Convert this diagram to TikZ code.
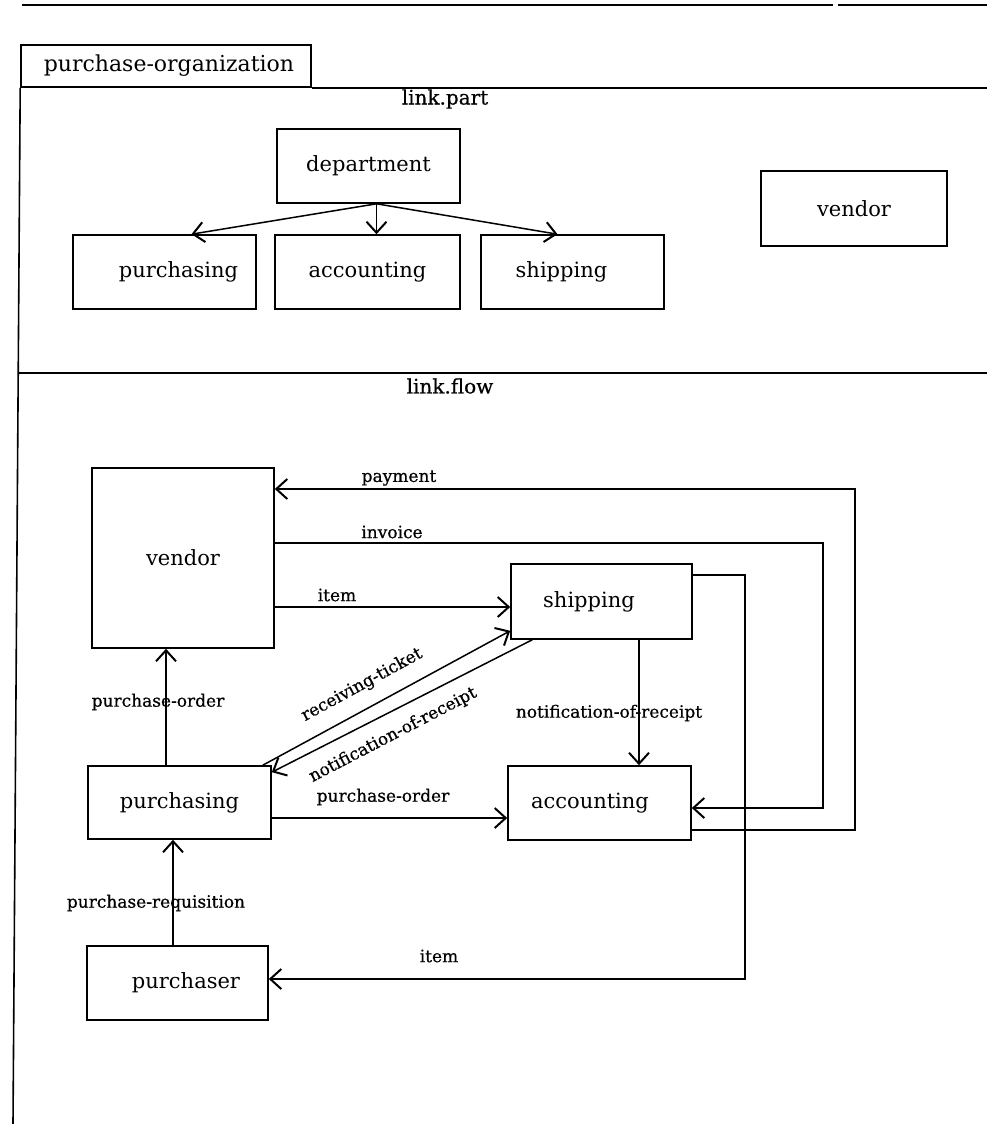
\documentclass[tikz,border=0pt]{standalone}
\usepackage{fontspec}
\setmainfont{DejaVu Serif}
\newfontfamily\heavyserif[FakeBold=0.6]{DejaVu Serif}
\usetikzlibrary{arrows.meta}
\begin{document}
\begin{tikzpicture}[x=1pt,y=-1pt,
  box/.style={draw, line width=1.6pt, inner sep=0pt, font=\fontsize{21}{24}\selectfont},
  flow/.style={line width=1.5pt, -{Straight Barb[length=11pt,width=20pt,line width=2pt]}},
  lbl/.style={inner sep=0pt, font=\heavyserif\fontsize{17}{20}\selectfont},
  frame/.style={line width=1.6pt},
  title/.style={inner sep=0pt, font=\heavyserif\fontsize{20}{23}\selectfont}]
\useasboundingbox (0,0) rectangle (987,1124);

% ---- outer frame ----
\draw[frame] (22,5) -- (833,5);
\draw[frame] (838,5) -- (987,5);
\node[draw, line width=1.6pt, inner sep=0pt, minimum width=290pt, minimum height=42pt,
      font=\fontsize{22}{26}\selectfont] (org) at (166,66) {\hspace*{6pt}purchase-organization};
\draw[frame] (org.south east) -- (org.south east -| 987,0);
\draw[frame] (org.south west) -- (13,1124);
\draw[frame] (19,373) -- (987,373);

\node[title] (lp) at (445,99) {link.part};
\node[title] (lf) at (450,386) {link.flow};

% ---- link.part ----
\node[box, minimum width=183pt, minimum height=74pt] (dep) at (368.5,166) {department};
\node[box, minimum width=183pt, minimum height=74pt] (pp) at (164.5,272) {\hspace*{28pt}purchasing};
\node[box, minimum width=185pt, minimum height=74pt] (pa) at (367.5,272) {accounting};
\node[box, minimum width=183pt, minimum height=74pt] (ps) at (572.5,272) {shipping\hspace*{22pt}};
\node[box, minimum width=186pt, minimum height=75pt] (pv) at (854,208.5) {vendor};

\draw[flow] ([xshift=8pt]dep.south) -- ([xshift=27pt]pp.north);
\draw[flow] ([xshift=8pt]dep.south) -- ([xshift=9pt]pa.north);
\draw[flow] ([xshift=8pt]dep.south) -- ([xshift=-15pt]ps.north);

% ---- link.flow ----
\node[box, minimum width=182pt, minimum height=180pt] (vend) at (183,558) {vendor};
\node[box, minimum width=181pt, minimum height=75pt] (ship) at (601.5,601.5) {shipping\hspace*{25pt}};
\node[box, minimum width=183pt, minimum height=73pt] (pur) at (179.5,802.5) {purchasing};
\node[box, minimum width=183pt, minimum height=74pt] (acc) at (599.5,803) {accounting\hspace*{19pt}};
\node[box, minimum width=181pt, minimum height=74pt] (prc) at (177.5,983) {\hspace*{17pt}purchaser};

% connectors
\draw[flow] (vend.east |- 0,607) -- (ship.west |- 0,607);
\draw[flow] (vend.east |- 0,543) -| (823,808) -- (acc.east |- 0,808);
\draw[flow] (acc.east |- 0,830) -| (855,489) -- (vend.east |- 0,489);
\draw[flow] (ship.east |- 0,575) -| (745,979) -- (prc.east |- 0,979);
\draw[flow] (ship.south -| 639,0) -- (acc.north -| 639,0);
\draw[flow] (pur.north -| 166,0) -- (vend.south -| 166,0);
\draw[flow] (prc.north -| 173,0) -- (pur.south -| 173,0);
\draw[flow] (pur.east |- 0,818) -- (acc.west |- 0,818);
\draw[flow] ([xshift=-9pt]pur.north east) -- ([yshift=9pt]ship.south west);
\draw[flow] ([xshift=22pt]ship.south west) -- ([yshift=-7pt]pur.north east);

% connector labels
\node[lbl] (lpay) at (399,478) {payment};
\node[lbl] (linv) at (392,532) {invoice};
\node[lbl] (litem) at (337,595) {item};
\node[lbl] (lpov) at (158,702) {purchase-order};
\node[lbl] (lpoh) at (383,797) {purchase-order};
\node[lbl] (lnrv) at (609,713) {notification-of-receipt};
\node[lbl, rotate=28.6] (lrt) at (362,685) {receiving-ticket};
\node[lbl, rotate=27.5] (lnrd) at (393,735) {notification-of-receipt};
\node[lbl] (lreq) at (156,903) {purchase-requisition};
\node[lbl] (litem2) at (439,956) {item};
\end{tikzpicture}
\end{document}
